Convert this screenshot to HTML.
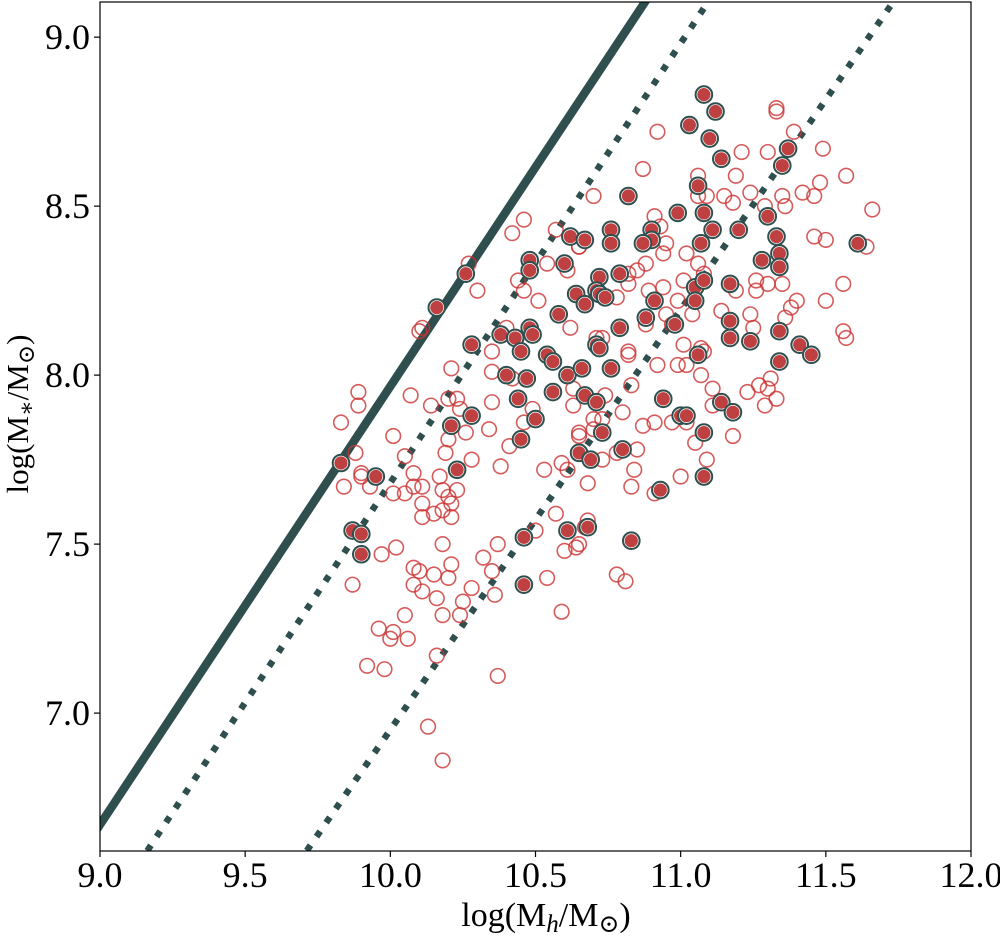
<!DOCTYPE html>
<html><head><meta charset="utf-8"><style>
html,body{margin:0;padding:0;background:#fff;}
svg text{font-family:"Liberation Serif","DejaVu Serif",serif;fill:#000;}
</style></head><body>
<svg id="chart" width="1000" height="935" xmlns="http://www.w3.org/2000/svg">
<defs><clipPath id="clip"><rect x="100" y="2" width="871" height="849"/></clipPath></defs>
<g id="lines" clip-path="url(#clip)"></g>
<g id="pts" clip-path="url(#clip)"></g>
<rect x="100" y="2" width="871" height="849" fill="none" stroke="#000" stroke-width="1.2"/>
<g id="axes"></g>
<text x="546" y="926" font-size="34" text-anchor="middle">log(M<tspan font-style="italic" font-size="25" dy="6">h</tspan><tspan dy="-6">/M</tspan><tspan font-size="25" dy="6">⊙</tspan><tspan dy="-6">)</tspan></text>
<text transform="translate(28,414) rotate(-90)" font-size="31" text-anchor="middle">log(M<tspan font-size="23" dy="6">∗</tspan><tspan dy="-6">/M</tspan><tspan font-size="23" dy="6">⊙</tspan><tspan dy="-6">)</tspan></text>
</svg>
<script>
const xTicks=[9.0,9.5,10.0,10.5,11.0,11.5,12.0];
const xTickLabels=["9.0","9.5","10.0","10.5","11.0","11.5","12.0"];
const yTicks=[7.0,7.5,8.0,8.5,9.0];
const yTickLabels=["7.0","7.5","8.0","8.5","9.0"];
const solidLineX=[9.0,10.877];
const solidLineY=[6.67,9.104];
const dotted1X=[9.18,11.094];
const dotted1Y=[6.615,9.104];
const dotted2X=[9.73,11.732];
const dotted2Y=[6.615,9.104];
const filledPts=[[10.62,8.41],[10.67,8.40],[10.48,8.34],[10.48,8.31],[10.60,8.33],[10.72,8.29],[10.64,8.24],[10.67,8.21],[10.71,8.25],[10.26,8.30],[10.16,8.20],[10.58,8.18],[10.48,8.14],[10.49,8.12],[10.38,8.12],[10.43,8.11],[10.45,8.07],[10.28,8.09],[10.54,8.06],[10.56,8.04],[10.61,8.00],[10.66,8.02],[10.71,8.09],[10.40,8.00],[10.47,7.99],[10.56,7.95],[10.44,7.93],[10.67,7.94],[10.71,7.92],[10.28,7.88],[10.21,7.85],[10.50,7.87],[10.45,7.81],[10.65,7.77],[10.69,7.75],[9.83,7.74],[9.95,7.70],[10.23,7.72],[9.87,7.54],[9.90,7.53],[9.90,7.47],[10.46,7.52],[10.61,7.54],[10.68,7.55],[10.46,7.38],[11.08,8.83],[11.12,8.78],[11.03,8.74],[11.10,8.70],[11.14,8.64],[11.37,8.67],[11.35,8.62],[11.06,8.56],[10.82,8.53],[10.99,8.48],[11.08,8.48],[11.11,8.43],[11.20,8.43],[11.30,8.47],[11.33,8.41],[11.34,8.36],[11.34,8.32],[11.28,8.34],[11.61,8.39],[10.76,8.43],[10.76,8.39],[10.90,8.43],[10.90,8.40],[10.87,8.39],[11.07,8.39],[11.05,8.26],[11.08,8.28],[11.05,8.22],[11.17,8.27],[10.79,8.30],[10.72,8.24],[10.74,8.23],[10.91,8.22],[10.88,8.17],[10.98,8.15],[10.79,8.14],[11.17,8.16],[11.17,8.11],[11.24,8.10],[11.34,8.13],[11.41,8.09],[11.45,8.06],[10.72,8.08],[11.06,8.06],[11.34,8.04],[10.76,8.02],[10.94,7.93],[11.00,7.88],[11.02,7.88],[11.14,7.92],[11.18,7.89],[10.73,7.83],[10.80,7.78],[11.08,7.83],[11.08,7.70],[10.93,7.66],[10.83,7.51]];
const openPts=[[10.46,8.46],[10.42,8.42],[10.57,8.43],[10.65,8.38],[10.54,8.33],[10.61,8.31],[10.27,8.33],[10.30,8.25],[10.44,8.28],[10.46,8.25],[10.51,8.22],[10.62,8.14],[10.40,8.14],[10.10,8.13],[10.11,8.14],[10.35,8.07],[10.21,8.02],[10.35,8.01],[10.42,7.99],[9.89,7.95],[9.89,7.91],[9.83,7.86],[10.07,7.94],[10.14,7.91],[10.20,7.93],[10.23,7.93],[10.24,7.90],[10.35,7.92],[10.49,7.90],[10.46,7.86],[10.34,7.84],[10.26,7.83],[10.20,7.81],[10.19,7.77],[10.01,7.82],[10.41,7.79],[9.88,7.77],[10.05,7.76],[10.08,7.71],[10.28,7.75],[10.38,7.73],[10.53,7.72],[10.59,7.74],[10.61,7.72],[9.90,7.71],[10.65,7.83],[10.70,7.87],[10.63,7.96],[10.63,7.91],[10.71,8.11],[9.84,7.67],[9.90,7.70],[9.93,7.67],[10.01,7.65],[10.05,7.65],[10.08,7.67],[10.11,7.67],[10.11,7.62],[10.11,7.58],[10.15,7.59],[10.17,7.70],[10.18,7.66],[10.20,7.64],[10.23,7.66],[10.21,7.62],[10.21,7.58],[10.18,7.60],[10.57,7.59],[10.50,7.54],[10.60,7.48],[10.64,7.49],[10.67,7.55],[10.37,7.50],[10.32,7.46],[10.35,7.42],[10.36,7.35],[10.54,7.40],[10.28,7.37],[10.25,7.33],[10.24,7.29],[10.18,7.29],[10.18,7.50],[10.21,7.44],[10.20,7.40],[10.15,7.41],[10.16,7.34],[10.11,7.36],[10.08,7.38],[10.08,7.43],[10.10,7.42],[10.02,7.49],[9.97,7.47],[9.87,7.38],[10.05,7.29],[9.96,7.25],[10.01,7.24],[10.00,7.22],[10.06,7.22],[10.16,7.17],[9.92,7.14],[9.98,7.13],[10.37,7.11],[10.59,7.30],[10.13,6.96],[10.18,6.86],[10.92,8.72],[11.33,8.79],[11.33,8.78],[11.39,8.72],[11.21,8.66],[11.30,8.66],[11.49,8.67],[10.87,8.61],[11.19,8.59],[11.57,8.59],[11.66,8.49],[11.06,8.59],[11.06,8.53],[11.09,8.53],[11.15,8.53],[11.18,8.51],[11.24,8.54],[11.29,8.50],[11.35,8.53],[11.36,8.50],[11.42,8.54],[11.48,8.57],[11.46,8.53],[10.70,8.53],[10.82,8.53],[10.91,8.47],[10.93,8.44],[10.95,8.39],[10.94,8.36],[11.02,8.36],[10.88,8.33],[10.85,8.31],[10.82,8.30],[10.82,8.27],[10.78,8.23],[10.89,8.25],[10.94,8.26],[10.99,8.22],[11.01,8.28],[11.06,8.33],[11.08,8.30],[10.95,8.18],[10.97,8.15],[11.04,8.18],[10.88,8.15],[11.14,8.19],[11.19,8.25],[11.26,8.28],[11.26,8.25],[11.30,8.27],[11.35,8.27],[11.24,8.18],[11.25,8.14],[11.36,8.17],[11.38,8.20],[11.40,8.22],[11.50,8.22],[11.56,8.27],[11.46,8.41],[11.50,8.40],[11.64,8.38],[11.56,8.13],[11.57,8.11],[11.01,8.09],[11.08,8.07],[10.82,8.07],[10.73,8.11],[10.65,8.38],[11.07,8.08],[10.82,8.06],[10.92,8.03],[10.99,8.03],[11.02,8.03],[11.07,8.00],[11.11,7.96],[11.11,7.91],[10.83,7.97],[10.74,7.94],[10.80,7.89],[10.87,7.85],[10.91,7.86],[10.97,7.86],[11.02,7.86],[10.73,7.87],[10.70,7.84],[10.65,7.82],[11.05,7.80],[11.18,7.82],[11.23,7.95],[11.27,7.97],[11.30,7.96],[11.31,7.99],[11.33,7.93],[11.29,7.91],[11.09,7.75],[11.00,7.70],[10.84,7.72],[10.83,7.67],[10.91,7.65],[10.85,7.78],[10.78,7.77],[10.73,7.75],[10.68,7.68],[10.68,7.57],[10.78,7.41],[10.81,7.39],[10.65,7.50]];

const X0=100,X1=971,Y0=2,Y1=851;
const xMin=9.0,xMax=12.0,yMin=6.592,yMax=9.104;
function sx(v){return X0+(v-xMin)/(xMax-xMin)*(X1-X0);}
function sy(v){return Y1-(v-yMin)/(yMax-yMin)*(Y1-Y0);}
const NS="http://www.w3.org/2000/svg";
function mk(tag,attrs,parent){const e=document.createElementNS(NS,tag);for(const k in attrs)e.setAttribute(k,attrs[k]);parent.appendChild(e);return e;}

const axes=document.getElementById('axes');
xTicks.forEach((t,i)=>{
  const x=sx(t);
  const tk=mk('line',{x1:x,x2:x,y1:Y1,y2:Y1+6,stroke:'#000','stroke-width':1.2},axes);
  
  
  const tl=mk('text',{x:x,y:887,'font-size':36,'text-anchor':'middle'},axes);
  tl.textContent=xTickLabels[i];
  
  
});
yTicks.forEach((t,i)=>{
  const y=sy(t);
  const tk=mk('line',{x1:X0-6,x2:X0,y1:y,y2:y,stroke:'#000','stroke-width':1.2},axes);
  
  
  const tl=mk('text',{x:X0-10,y:y+12,'font-size':36,'text-anchor':'end'},axes);
  tl.textContent=yTickLabels[i];
  
  
});

const lg=document.getElementById('lines');
function drawLine(xs,ys,name,dash){
  const x1=sx(xs[0]),y1=sy(ys[0]),x2=sx(xs[1]),y2=sy(ys[1]);
  const dx=x2-x1,dy=y2-y1,L=Math.hypot(dx,dy),ex=dx/L*60,ey=dy/L*60;
  const a={x1:x1-ex,y1:y1-ey,x2:x2+ex,y2:y2+ey,stroke:'#2f4f4f','stroke-width':dash?6.5:8.5};
  if(dash){a['stroke-dasharray']='6.5 10.5';}
  const l=mk('line',a,lg);
  
  
}
drawLine(solidLineX,solidLineY,'solid-relation-line',false);
drawLine(dotted1X,dotted1Y,'dotted-line-upper',true);
drawLine(dotted2X,dotted2Y,'dotted-line-lower',true);

const pg=document.getElementById('pts');
openPts.forEach(p=>{
  const c=mk('circle',{cx:sx(p[0]),cy:sy(p[1]),r:7.3,fill:'none',stroke:'#cc3333','stroke-opacity':0.8,'stroke-width':1.6},pg);
  
  
});
filledPts.forEach(p=>{
  const g=mk('g',{},pg);
  
  
  mk('circle',{cx:sx(p[0]),cy:sy(p[1]),r:8.3,fill:'#fff',stroke:'#2f4f4f','stroke-width':2},g);
  mk('circle',{cx:sx(p[0]),cy:sy(p[1]),r:6.6,fill:'#bf4040'},g);
});
</script>
</body></html>
